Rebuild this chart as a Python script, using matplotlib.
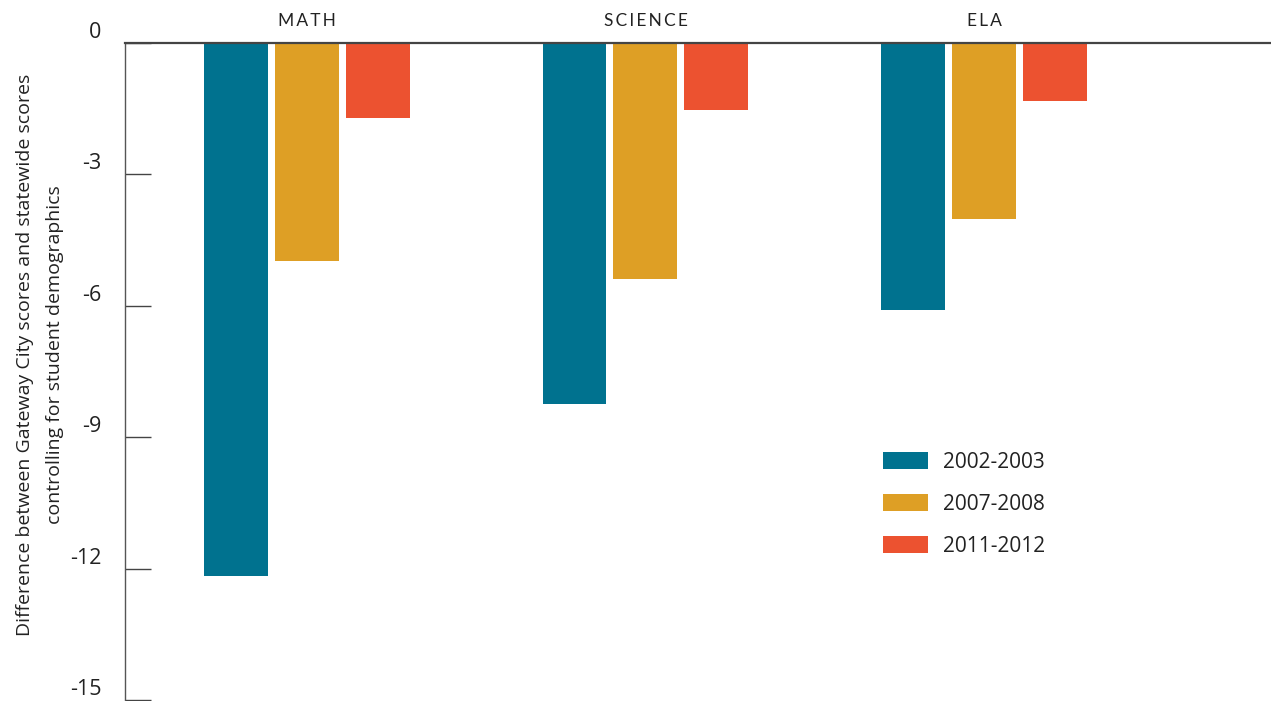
import matplotlib.pyplot as plt
import matplotlib.transforms as mtransforms
import numpy as np

plt.rcParams["font.family"] = ["Open Sans", "DejaVu Sans"]

categories = ["MATH", "SCIENCE", "ELA"]
periods = ["2002-2003", "2007-2008", "2011-2012"]
scores_2002 = [-12.17, -8.24, -6.10]
scores_2007 = [-4.98, -5.39, -4.02]
scores_2011 = [-1.71, -1.53, -1.32]
colors = ["#00728f", "#de9f25", "#ec5230"]
yticks = [0, -3, -6, -9, -12, -15]

fig = plt.figure(figsize=(12.71, 7.01), dpi=100)
ax = fig.add_axes([125 / 1271, 1 / 701, 1 - 125 / 1271, 657 / 701])

x = np.arange(len(categories))
width = 0.189
step = 0.2097
bars = []
for i, (vals, color, label) in enumerate(zip([scores_2002, scores_2007, scores_2011], colors, periods)):
    b = ax.bar(x + (i - 1) * step, vals, width, color=color, label=label)
    bars.append(b)

ax.set_xlim(-0.5377, 2.848)
ax.set_ylim(-15, 0)
ax.set_xticks([])
ax.set_yticks(yticks)
ax.set_yticklabels([str(t) for t in yticks])
ax.tick_params(axis="y", direction="in", length=19, width=1, color="#444444",
               labelsize=15.5, pad=17, labelcolor="#222222")
for lab in ax.get_yticklabels():
    lab.set_verticalalignment("bottom")

for side in ["right", "bottom"]:
    ax.spines[side].set_visible(False)
ax.spines["left"].set_color("#555555")
ax.spines["left"].set_linewidth(1)
ax.spines["top"].set_color("#444444")
ax.spines["top"].set_linewidth(1.6)
for s in ax.spines.values():
    s.set_clip_on(False)

# category names above the zero line, letter spaced
cat_trans = mtransforms.blended_transform_factory(ax.transData, fig.transFigure)
for xi, cat in zip(x, categories):
    ax.text(xi, 1 - 21 / 701, "\u2009".join(cat), transform=cat_trans,
            ha="center", va="center", fontsize=12.5, color="#222222",
            family=["Lato", "DejaVu Sans"], clip_on=False)

fig.text(40 / 1271, 1 - 355 / 701,
         "Difference between Gateway City scores and statewide scores\ncontrolling for student demographics",
         rotation=90, ha="center", va="center", multialignment="center",
         fontsize=14, color="#222222", linespacing=1.85)

ax.legend(handles=bars, labels=periods, loc="upper left",
          bbox_to_anchor=(883 / 1271, 1 - 452 / 701), bbox_transform=fig.transFigure,
          frameon=False, fontsize=15, handlelength=2.16, handleheight=0.87,
          handletextpad=0.72, labelspacing=1.0, borderpad=0, borderaxespad=0,
          labelcolor="#222222")

fig.savefig("out.png", dpi=100)
